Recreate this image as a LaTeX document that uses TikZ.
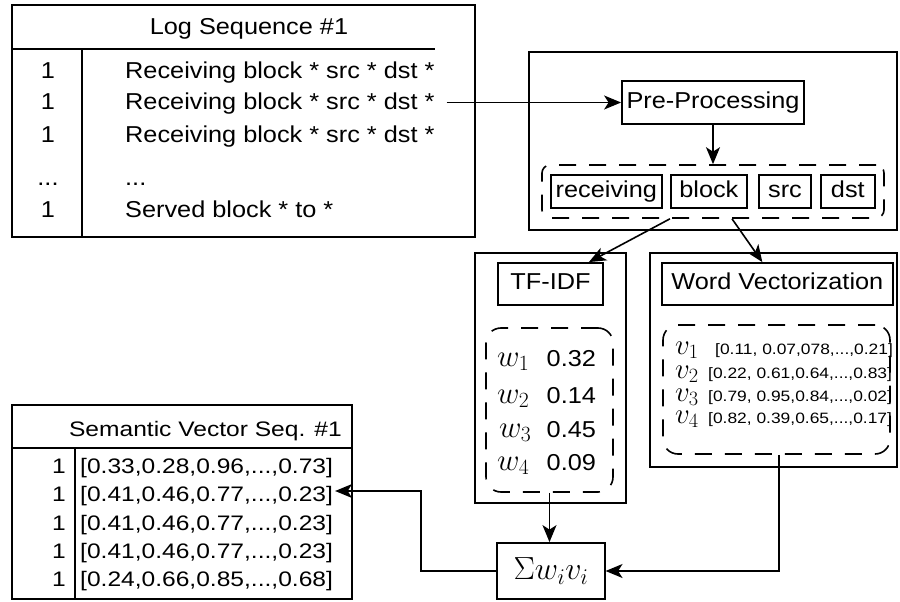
\RequirePackage{fix-cm}
\documentclass[tikz,border=0pt]{standalone}
\usepackage[no-math]{fontspec}
\setmainfont{Liberation Sans}[FakeStretch=1.1]
\newfontfamily\tabfont{Liberation Sans}[FakeStretch=1.17]
\newfontfamily\vecfont{Liberation Sans}[FakeStretch=1.16]
\usetikzlibrary{arrows.meta}

\tikzset{
  outer/.style={draw, line width=1.8pt, inner sep=0pt},
  tagbox/.style={draw, line width=1.8pt, inner sep=0pt, text height=16.5pt, text depth=4.8pt,
                 font=\fontsize{23}{27}\selectfont},
  dashbox/.style={draw, line width=1.6pt, dash pattern=on 17pt off 13pt,
                  rounded corners=#1, inner sep=0pt},
  dashbox/.default=10pt,
  txt/.style={inner sep=0pt, font=\fontsize{23}{27}\selectfont},
  tab/.style={inner sep=0pt, font=\tabfont\fontsize{21}{25}\selectfont},
  small/.style={inner sep=0pt, font=\vecfont\fontsize{15}{18}\selectfont},
  mathw/.style={inner sep=0pt, font=\fontsize{31}{35}\selectfont},
  mathv/.style={inner sep=0pt, font=\fontsize{29}{33}\selectfont},
  rule/.style={line width=1.8pt},
  arr/.style={line width=1.6pt, -{Stealth[length=17pt,width=14pt,inset=4.5pt]}},
}

\begin{document}
\begin{tikzpicture}[x=1pt,y=-1pt]
\useasboundingbox (0,0) rectangle (900,602);

% ---------------- log sequence table ----------------
\node[outer, minimum width=463pt, minimum height=232pt] (logtab) at (243.5,121) {};
\coordinate (hdr) at (435,49);
\draw[rule] (hdr -| logtab.west) -- (hdr);
\coordinate (col) at (82,49);
\draw[rule] (col) -- (col |- logtab.south);
\node[txt, anchor=base] (loghead) at (249,35) {Log Sequence \#1};
\node[txt, anchor=base] (ln1) at (48,78) {1};
\node[txt, anchor=base] (ln2) at (48,110) {1};
\node[txt, anchor=base] (ln3) at (48,142) {1};
\node[txt, anchor=base] (ln4) at (48,185) {...};
\node[txt, anchor=base] (ln5) at (48,217) {1};
\node[txt, anchor=base west] (lr1) at (125,78) {Receiving block * src * dst *};
\node[txt, anchor=base west] (lr2) at (125,110) {Receiving block * src * dst *};
\node[txt, anchor=base west] (lr3) at (125,142) {Receiving block * src * dst *};
\node[txt, anchor=base west] (lr4) at (125,185) {...};
\node[txt, anchor=base west] (lr5) at (125,217) {Served block * to *};

% ---------------- pre-processing ----------------
\node[outer, minimum width=368pt, minimum height=178pt] (prefr) at (713,141) {};
\node[tagbox, minimum width=182pt, minimum height=43pt] (pre) at (713,102.5) {Pre-Processing};
\node[dashbox=8pt, minimum width=342pt, minimum height=53pt] (tokens) at (713,191.5) {};
\node[tagbox, minimum width=111.3pt, minimum height=33pt] (tk1) at (606.35,191.5) {receiving};
\node[tagbox, minimum width=76.3pt, minimum height=33pt] (tk2) at (708.85,191.5) {block};
\node[tagbox, minimum width=52pt, minimum height=33pt] (tk3) at (785,191.5) {src};
\node[tagbox, minimum width=54.3pt, minimum height=33pt] (tk4) at (847.85,191.5) {dst};

% ---------------- TF-IDF ----------------
\node[outer, minimum width=151pt, minimum height=250pt] (tffr) at (550.5,378) {};
\node[tagbox, minimum width=105pt, minimum height=42pt] (tfidf) at (550.5,284) {TF-IDF};
\node[dashbox=15pt, minimum width=127pt, minimum height=164pt] (tfdash) at (549.5,410) {};
\node[mathw, anchor=base west] (w1) at (497,366) {$w_1$};
\node[mathw, anchor=base west] (w2) at (497,403) {$w_2$};
\node[mathw, anchor=base west] (w3) at (499,437) {$w_3$};
\node[mathw, anchor=base west] (w4) at (497,470) {$w_4$};
\node[txt, anchor=base west] (wt1) at (546.5,366) {0.32};
\node[txt, anchor=base west] (wt2) at (546.5,403) {0.14};
\node[txt, anchor=base west] (wt3) at (546.5,437) {0.45};
\node[txt, anchor=base west] (wt4) at (546.5,470) {0.09};

% ---------------- word vectorization ----------------
\node[outer, minimum width=247pt, minimum height=214pt] (wvfr) at (773.5,360) {};
\node[tagbox, minimum width=231.3pt, minimum height=42pt] (wvec) at (777.35,284) {Word Vectorization};
\node[dashbox=15pt, minimum width=227pt, minimum height=129pt] (wvdash) at (776.5,389.5) {};
\node[mathv, anchor=base west] (v1) at (675,354) {$v_1$};
\node[mathv, anchor=base west] (v2) at (675,378) {$v_2$};
\node[mathv, anchor=base west] (v3) at (675,401) {$v_3$};
\node[mathv, anchor=base west] (v4) at (675,423) {$v_4$};
\node[small, anchor=base west] (vt1) at (715,354) {[0.11, 0.07,078,...,0.21]};
\node[small, anchor=base west] (vt2) at (708,378) {[0.22, 0.61,0.64,...,0.83]};
\node[small, anchor=base west] (vt3) at (708,401) {[0.79, 0.95,0.84,...,0.02]};
\node[small, anchor=base west] (vt4) at (708,423) {[0.82, 0.39,0.65,...,0.17]};

% ---------------- weighted sum ----------------
\node[outer, minimum width=107.3pt, minimum height=56pt, font=\fontsize{32}{36}\selectfont]
  (sigma) at (551,571) {$\Sigma w_i v_i$};

% ---------------- semantic vector table ----------------
\node[outer, minimum width=340pt, minimum height=194pt] (semtab) at (182,502) {};
\coordinate (shl) at (12,448);
\draw[rule] (shl) -- (shl -| semtab.east);
\coordinate (scol) at (75,448);
\draw[rule] (scol) -- (scol |- semtab.south);
\node[tab, anchor=base east] (semhead) at (342,436.5) {Semantic Vector Seq. \#1};
\node[tab, anchor=base east] (sn1) at (66,473) {1};
\node[tab, anchor=base east] (sn2) at (66,501) {1};
\node[tab, anchor=base east] (sn3) at (66,530) {1};
\node[tab, anchor=base east] (sn4) at (66,558) {1};
\node[tab, anchor=base east] (sn5) at (66,586) {1};
\node[tab, anchor=base west] (sv1) at (80,473) {[0.33,0.28,0.96,...,0.73]};
\node[tab, anchor=base west] (sv2) at (80,501) {[0.41,0.46,0.77,...,0.23]};
\node[tab, anchor=base west] (sv3) at (80,530) {[0.41,0.46,0.77,...,0.23]};
\node[tab, anchor=base west] (sv4) at (80,558) {[0.41,0.46,0.77,...,0.23]};
\node[tab, anchor=base west] (sv5) at (80,586) {[0.24,0.66,0.85,...,0.68]};

% ---------------- connectors ----------------
\draw[arr] (lr2.east |- pre.west) ++(12,0) -- (pre.west);
\draw[arr] (pre.south) -- (tokens.north);
\draw[arr] ([xshift=-43pt]tokens.south) -- ([xshift=-15pt]tfidf.north east);
\draw[arr] ([xshift=19pt]tokens.south) -- ([xshift=-15pt]wvec.north);
\draw[arr] (tfdash.south) -- (tfdash.south |- sigma.north);
\draw[arr] ([xshift=2.5pt]wvdash.south) |- (sigma.east);
\coordinate (bend) at (421,491);
\draw[arr, shorten >=2pt] (sigma.west) -| (bend) -- (bend -| sv2.east);
\end{tikzpicture}
\end{document}
